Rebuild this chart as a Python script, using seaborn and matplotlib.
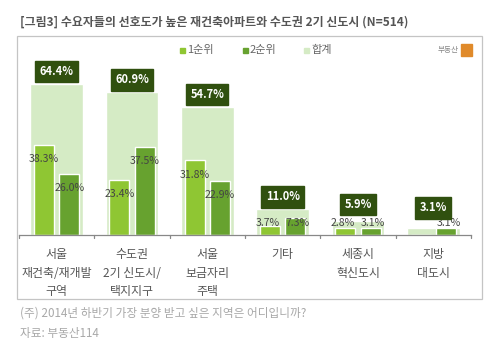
import matplotlib
matplotlib.use("Agg")
import matplotlib.pyplot as plt
import seaborn as sns
import pandas as pd
from matplotlib.patches import Rectangle

sns.set_theme(style="white")
plt.rcParams['font.family'] = ['Noto Sans CJK KR', 'DejaVu Sans']

categories = ["서울\n재건축/재개발\n구역", "수도권\n2기 신도시/\n택지지구", "서울\n보금자리\n주택",
              "기타", "세종시\n혁신도시", "지방\n대도시"]
rank1 = [38.3, 23.4, 31.8, 3.7, 2.8, 0.0]
rank2 = [26.0, 37.5, 22.9, 7.3, 3.1, 3.1]
total = [64.4, 60.9, 54.7, 11.0, 5.9, 3.1]
series_names = ["1순위", "2순위", "합계"]

c1 = "#8fc633"
c2 = "#67a22f"
ct = "#d5ebc5"
cbox = "#30500f"

fig = plt.figure(figsize=(5.0, 3.48), dpi=100)
fig.patch.set_facecolor("white")

# frame
fig.patches.append(Rectangle((17/500, 1-299/348), 465/500, (299-36)/348,
                             transform=fig.transFigure, fill=False,
                             edgecolor="#c4c4c4", linewidth=0.9))

ax = fig.add_axes([19/500, 1-235/348, 452/500, 164/348])
ax.set_facecolor("none")

df_tot = pd.DataFrame({"cat": categories, "val": total})
sns.barplot(data=df_tot, x="cat", y="val", color=ct, width=0.7, ax=ax,
            saturation=1, order=categories)

df_r = pd.DataFrame({
    "cat": categories * 2,
    "val": rank1 + rank2,
    "series": [series_names[0]] * 6 + [series_names[1]] * 6,
})
sns.barplot(data=df_r, x="cat", y="val", hue="series", palette=[c1, c2],
            width=0.667, gap=0.2, ax=ax, saturation=1, order=categories,
            legend=False)

ax.set_xlim(-0.5, 5.5)
ax.set_ylim(0, 70)
ax.set_xlabel("")
ax.set_ylabel("")
ax.set_yticks([])
ax.set_xticks([])
for s in ["top", "right", "left"]:
    ax.spines[s].set_visible(False)
ax.spines["bottom"].set_color("#888888")
ax.spines["bottom"].set_linewidth(0.9)

# boundary ticks
for b in [x - 0.5 for x in range(7)]:
    ax.plot([b, b], [0, -1.3], color="#888888", lw=0.9, clip_on=False)

# category labels
for i, c in enumerate(categories):
    ax.text(i, -5.6, c, ha="center", va="top", fontsize=8.6, color="#555555",
            linespacing=1.55)

# value labels for rank bars
for i in range(6):
    small = max(rank1[i], rank2[i]) < 10
    d = 0.2 if small else 0.167
    for off, v in ((-d, rank1[i]), (d, rank2[i])):
        if v <= 0:
            continue
        y = max(v - 6, 5.2)
        ax.text(i + off, y, f"{v:.1f}%", ha="center", va="center",
                fontsize=7.6, color="#444444")

# total boxes
for i, v in enumerate(total):
    y = max(v + 5.3, 10 + 0.5 * v)
    ax.text(i, y, f"{v:.1f}%", ha="center", va="center", fontsize=8,
            fontweight="bold", color="white", clip_on=False,
            bbox=dict(boxstyle="square,pad=0.38", fc=cbox, ec=cbox))

# title
fig.text(20/500, 1-22/348, "[그림3] 수요자들의 선호도가 높은 재건축아파트와 수도권 2기 신도시 (N=514)",
         fontsize=8.6, fontweight="bold", color="#555555", va="center", ha="left")

# legend
leg_y = 1 - 50/348
for x0, col, name in ((180, c1, series_names[0]), (243, c2, series_names[1]), (304, ct, series_names[2])):
    fig.patches.append(Rectangle((x0/500, leg_y - 2.5/348), 5/500, 5/348,
                                 transform=fig.transFigure, color=col))
    fig.text((x0 + 7)/500, leg_y, name, fontsize=8, color="#666666",
             va="center", ha="left")

# logo
fig.text(459/500, 1-50/348, "부동산", fontsize=5.5, color="#888888", va="center", ha="right")
fig.patches.append(Rectangle((461/500, 1-56/348), 11/500, 12/348,
                             transform=fig.transFigure, color="#e08a2a"))

# footnotes
fig.text(20/500, 1-313/348, "(주) 2014년 하반기 가장 분양 받고 싶은 지역은 어디입니까?",
         fontsize=8.4, color="#a8a8a8", va="center", ha="left")
fig.text(20/500, 1-333/348, "자료: 부동산114", fontsize=8.4, color="#a8a8a8",
         va="center", ha="left")

fig.savefig("out.png", dpi=100, facecolor="white")
